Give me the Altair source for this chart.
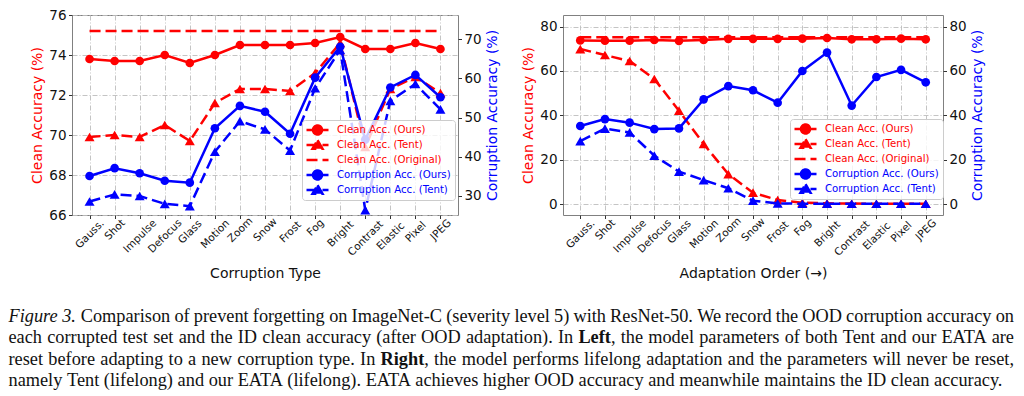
import altair as alt
import pandas as pd

categories = ["Gauss.", "Shot", "Impulse", "Defocus", "Glass", "Motion", "Zoom", "Snow",
              "Frost", "Fog", "Bright", "Contrast", "Elastic", "Pixel", "JPEG"]

series_names = ["Clean Acc. (Ours)", "Clean Acc. (Tent)", "Clean Acc. (Original)",
                "Corruption Acc. (Ours)", "Corruption Acc. (Tent)"]

# Left panel: parameters reset for each corruption type
left_clean_ours = [73.8, 73.7, 73.7, 74.0, 73.6, 74.0, 74.5, 74.5, 74.5, 74.6, 74.9, 74.3, 74.3, 74.6, 74.3]
left_clean_tent = [69.9, 70.0, 69.9, 70.5, 69.7, 71.6, 72.3, 72.3, 72.2, 73.1, 74.6, 69.4, 72.3, 72.9, 72.1]
left_clean_orig = [75.2, 75.2, 75.2, 75.2, 75.2, 75.2, 75.2, 75.2, 75.2, 75.2, 75.2, 75.2, 75.2, 75.2, 75.2]
left_corr_ours = [35.1, 37.1, 35.8, 33.9, 33.4, 47.3, 53.0, 51.5, 45.9, 60.2, 68.1, 44.4, 57.7, 60.9, 55.2]
left_corr_tent = [28.6, 30.4, 30.0, 28.0, 27.4, 41.3, 49.1, 47.0, 41.6, 57.5, 67.3, 26.4, 54.3, 58.6, 52.1]

# Right panel: lifelong adaptation
right_clean_ours = [73.8, 73.7, 73.7, 74.0, 73.6, 74.0, 74.5, 74.5, 74.5, 74.6, 74.9, 74.3, 74.3, 74.6, 74.3]
right_clean_tent = [69.9, 67.2, 64.5, 56.4, 42.1, 27.1, 13.5, 5.1, 1.8, 0.6, 0.3, 0.2, 0.1, 0.1, 0.1]
right_clean_orig = [75.2, 75.2, 75.2, 75.2, 75.2, 75.2, 75.2, 75.2, 75.2, 75.2, 75.2, 75.2, 75.2, 75.2, 75.2]
right_corr_ours = [35.2, 38.3, 36.7, 33.8, 34.1, 47.2, 53.2, 51.3, 45.7, 60.0, 68.3, 44.4, 57.3, 60.5, 54.9]
right_corr_tent = [28.4, 34.0, 32.3, 21.8, 14.6, 10.8, 7.1, 1.5, 0.3, 0.1, 0.1, 0.1, 0.1, 0.1, 0.1]

caption_lines = [
    [("Figure 3.", "italic"),
     ("Comparison of prevent forgetting on ImageNet-C (severity level 5) with ResNet-50. We record the OOD corruption accuracy on", "normal")],
    [("each corrupted test set and the ID clean accuracy (after OOD adaptation). In", "normal"),
     ("Left", "bold"),
     (", the model parameters of both Tent and our EATA are", "normal")],
    [("reset before adapting to a new corruption type. In", "normal"),
     ("Right", "bold"),
     (", the model performs lifelong adaptation and the parameters will never be reset,", "normal")],
    [("namely Tent (lifelong) and our EATA (lifelong). EATA achieves higher OOD accuracy and meanwhile maintains the ID clean accuracy.", "normal")],
]
caption_justified = [True, True, True, False]

RED = "#ff0000"
BLUE = "#0000ff"
DASH = [11, 5]
LW = 2.5

# ---------------- caption layout (Times metrics, per 1000 em) ----------------
_TR = {" ": 250, "(": 333, ")": 333, ",": 250, "-": 333, ".": 250, "/": 278, ":": 278}
_TR.update({d: 500 for d in "0123456789"})
_TR.update(dict(zip("ABCDEFGHIJKLMNOPQRSTUVWXYZ",
                    [722, 667, 667, 722, 611, 556, 722, 722, 333, 389, 722, 611, 889, 722, 722, 556, 722, 667,
                     556, 611, 722, 722, 944, 722, 722, 611])))
_TR.update(dict(zip("abcdefghijklmnopqrstuvwxyz",
                    [444, 500, 444, 500, 444, 333, 500, 500, 278, 278, 500, 278, 778, 500, 500, 500, 500, 333,
                     389, 278, 500, 500, 722, 500, 500, 444])))
_TB = dict(_TR)
_TB.update({"L": 667, "R": 722, "e": 444, "f": 333, "t": 333, "i": 278, "g": 500, "h": 556})
_TI = dict(_TR)
_TI.update({"F": 611, "i": 278, "g": 500, "u": 500, "r": 389, "e": 444})
_TAB = {"normal": _TR, "bold": _TB, "italic": _TI}
_KERN = {"AT": -111, "TA": -93, "Te": -70, "We": -92, "y.": -65, "y,": -65}


def _units(text, style):
    u = sum(_TAB[style].get(c, 500) for c in text)
    if style == "normal":
        u += sum(_KERN.get(text[i:i + 2], 0) for i in range(len(text) - 1))
    return u


X0, X1 = -63.5, 942.0          # left / right edge of caption text (relative to left plot)
LINE_Y = [306.5, 328.0, 349.5, 371.0]
last_units = _units(caption_lines[3][0][0], "normal")
CAP_FS = 994.0 * 1000.0 / last_units

cap_rows = []
for li, (segs, just) in enumerate(zip(caption_lines, caption_justified)):
    words = []
    for text, style in segs:
        if style == "italic":
            words.append([text, style, False])
            continue
        parts = text.split(" ")
        for k, p in enumerate(parts):
            attach = (k == 0 and p.startswith(","))
            words.append([p, style, attach])
    widths = [_units(w[0], w[1]) * CAP_FS / 1000.0 for w in words]
    n_gaps = sum(1 for w in words[1:] if not w[2])
    space = 250 * CAP_FS / 1000.0
    if just and n_gaps:
        space = (X1 - X0 - sum(widths)) / n_gaps
    x = X0
    for i, (w, wd) in enumerate(zip(words, widths)):
        if i > 0 and not w[2]:
            x += space
        cap_rows.append({"text": w[0], "style": w[1], "px": x, "py": LINE_Y[li]})
        x += wd
cap_df = pd.DataFrame(cap_rows)

# ---------------- legend symbols ----------------
legend_paths = [
    "M-1.2,0L3.2,0M1.9,0A0.9,0.9,0,1,1,0.1,0A0.9,0.9,0,1,1,1.9,0Z",
    "M-1.2,0L3.2,0M1,-0.95L2,0.75L0,0.75Z",
    "M-1.2,0L3.2,0",
    "M-1.2,0L3.2,0M1.9,0A0.9,0.9,0,1,1,0.1,0A0.9,0.9,0,1,1,1.9,0Z",
    "M-1.2,0L3.2,0M1,-0.95L2,0.75L0,0.75Z",
]
legend_colors = [RED, RED, RED, BLUE, BLUE]
legend_dashes = [[1, 0], DASH, DASH, [1, 0], DASH]
COLOR_EXPR = "indexof(datum.label, 'Clean') >= 0 ? '#ff0000' : '#0000ff'"


def long_df(vals_list, names, dashed, markers):
    rows = []
    for vals, name, d, m in zip(vals_list, names, dashed, markers):
        for c, v in zip(categories, vals):
            rows.append({"cat": c, "value": v, "series": name, "dash": d, "marker": m})
    return pd.DataFrame(rows)


def group_layers(df, color, x, y):
    base = alt.Chart(df).encode(x=x, y=y, detail="series:N")
    solid = base.transform_filter("datum.dash == 'solid'").mark_line(color=color, strokeWidth=LW)
    dashed = base.transform_filter("datum.dash == 'dash'").mark_line(color=color, strokeWidth=LW, strokeDash=DASH)
    circ = base.transform_filter("datum.marker == 'circle'").mark_point(
        shape="circle", filled=True, size=75, color=color, opacity=1)
    tri = base.transform_filter("datum.marker == 'triangle'").mark_point(
        shape="triangle-up", filled=True, size=100, color=color, opacity=1)
    return alt.layer(solid, dashed, circ, tri)


grid_style = dict(grid=True, gridColor="#bdbdbd", gridDash=[5, 2, 1, 2], gridWidth=0.9)
common_axis = dict(domain=False, tickSize=3.5, tickColor="#333333", labelColor="#111111",
                   titleColor="#111111", titleFontWeight="normal", titleFontSize=14,
                   labelFont="DejaVu Sans", titleFont="DejaVu Sans")


def panel(clean_vals, corr_vals, xtitle, ldom, lvals, rdom, rvals, width, legx, legy, with_caption):
    clean_df = long_df(clean_vals, series_names[:3], ["solid", "dash", "dash"], ["circle", "triangle", "none"])
    corr_df = long_df(corr_vals, series_names[3:], ["solid", "dash"], ["circle", "triangle"])

    xaxis = alt.Axis(title=xtitle, labelAngle=315, labelAlign="center", labelBaseline="middle",
                     labelFontSize=10.5, labelPadding=alt.ExprRef(expr="2.5 + 2.12 * length(datum.label)"),
                     titleY=58, titleBaseline="middle", labelOverlap=False, **grid_style, **common_axis)
    x = alt.X("cat:N", sort=categories, scale=alt.Scale(type="point", padding=0.7), axis=xaxis)

    lax = alt.Axis(title="Clean Accuracy (%)", orient="left", values=lvals, labelFontSize=13.5,
                   labelPadding=2.5, titleX=-35, titleAngle=270, titleBaseline="middle",
                   **grid_style, **{**common_axis, "titleColor": RED})
    rax = alt.Axis(title="Corruption Accuracy (%)", orient="right", values=rvals, labelFontSize=13.5,
                   labelPadding=2.5, titleX=34, titleAngle=270, titleBaseline="middle", grid=False,
                   **{**common_axis, "titleColor": BLUE})

    yl = alt.Y("value:Q", scale=alt.Scale(domain=ldom, nice=False, zero=False), axis=lax)
    yr = alt.Y("value:Q", scale=alt.Scale(domain=rdom, nice=False, zero=False), axis=rax)

    clean = group_layers(clean_df, RED, x, yl)
    corr = group_layers(corr_df, BLUE, x, yr)

    leg = alt.Legend(title=None, orient="none", legendX=legx, legendY=legy,
                     labelFontSize=10.2, labelFont="DejaVu Sans",
                     labelColor=alt.ExprRef(expr=COLOR_EXPR),
                     symbolSize=100, symbolStrokeWidth=2.5, symbolOpacity=1,
                     padding=4, rowPadding=3, clipHeight=12, labelOffset=18, labelLimit=300,
                     fillColor="rgba(255,255,255,0.8)", strokeColor="#cccccc", cornerRadius=3)
    legend_layer = alt.Chart(pd.DataFrame({"series": series_names})).mark_point(
        filled=True, opacity=0).encode(
        color=alt.Color("series:N", scale=alt.Scale(domain=series_names, range=legend_colors), legend=leg),
        stroke=alt.Stroke("series:N", scale=alt.Scale(domain=series_names, range=legend_colors), legend=leg),
        shape=alt.Shape("series:N", scale=alt.Scale(domain=series_names, range=legend_paths), legend=leg),
        strokeDash=alt.StrokeDash("series:N", scale=alt.Scale(domain=series_names, range=legend_dashes), legend=leg),
    )

    layers = [clean, corr, legend_layer]
    if with_caption:
        for st, fs, fw in [("normal", "normal", "normal"), ("italic", "italic", "normal"), ("bold", "normal", "bold")]:
            layers.append(
                alt.Chart(cap_df).transform_filter(f"datum.style == '{st}'").mark_text(
                    align="left", baseline="alphabetic", font="Liberation Serif", fontSize=CAP_FS,
                    fontStyle=fs, fontWeight=fw, color="#111111").encode(
                    x=alt.X("px:Q", scale=None, axis=None),
                    y=alt.Y("py:Q", scale=None, axis=None),
                    text="text:N")
            )
    return alt.layer(*layers).resolve_scale(y="independent").properties(width=width, height=200)


left = panel([left_clean_ours, left_clean_tent, left_clean_orig], [left_corr_ours, left_corr_tent],
             "Corruption Type", [66, 76], [66, 68, 70, 72, 74, 76], [25.15, 76.2], [30, 40, 50, 60, 70],
             386, 230, 105, True)
right = panel([right_clean_ours, right_clean_tent, right_clean_orig], [right_corr_ours, right_corr_tent],
              "Adaptation Order (\u2192)", [-4.96, 85.26], [0, 20, 40, 60, 80], [-4.96, 85.26], [0, 20, 40, 60, 80],
              380, 227, 104, False)

chart = alt.hconcat(left, right, spacing=105, bounds="flush").resolve_scale(
    color="independent", stroke="independent", shape="independent", strokeDash="independent"
).configure(
    font="DejaVu Sans", padding={"left": 0, "right": 0, "top": -1, "bottom": 0}
).configure_view(stroke="#808080", strokeWidth=1)

chart.save("out.html", embed_options={"renderer": "svg", "actions": False})
